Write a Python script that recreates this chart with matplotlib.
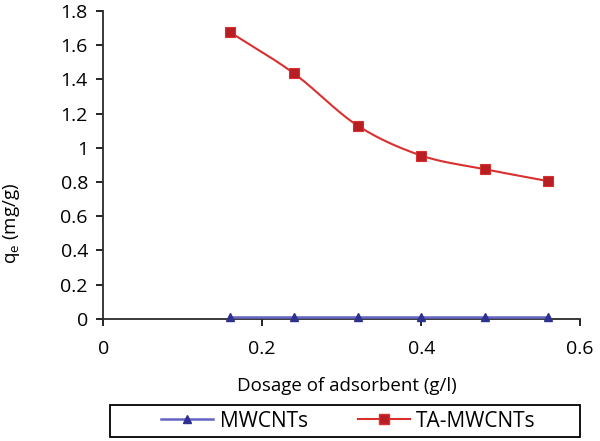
import numpy as np
import matplotlib
matplotlib.use("Agg")
import matplotlib.pyplot as plt
from matplotlib.lines import Line2D
from matplotlib.patches import Rectangle

# data
dosage = [0.16, 0.24, 0.32, 0.40, 0.48, 0.56]
qe_mwcnt = [0.008, 0.008, 0.008, 0.008, 0.008, 0.008]
qe_ta = [1.675, 1.435, 1.13, 0.955, 0.875, 0.805]

x_ticks = [0, 0.2, 0.4, 0.6]
x_labels = ["0", "0.2", "0.4", "0.6"]
y_ticks = [0, 0.2, 0.4, 0.6, 0.8, 1.0, 1.2, 1.4, 1.6, 1.8]
y_labels = ["0", "0.2", "0.4", "0.6", "0.8", "1", "1.2", "1.4", "1.6", "1.8"]

plt.rcParams['font.family'] = ['Open Sans', 'DejaVu Sans']


def smooth(xs, ys, n=30):
    # catmull-rom style curve like excel's smoothed line
    xs = np.asarray(xs, float)
    ys = np.asarray(ys, float)
    px = np.concatenate([[2 * xs[0] - xs[1]], xs, [2 * xs[-1] - xs[-2]]])
    py = np.concatenate([[2 * ys[0] - ys[1]], ys, [2 * ys[-1] - ys[-2]]])
    outx, outy = [], []
    t = np.linspace(0, 1, n)
    for i in range(1, len(px) - 2):
        for arr, out in ((px, outx), (py, outy)):
            p0, p1, p2, p3 = arr[i - 1], arr[i], arr[i + 1], arr[i + 2]
            c1 = p1 + (p2 - p0) / 6
            c2 = p2 - (p3 - p1) / 6
            out.extend((1 - t) ** 3 * p1 + 3 * (1 - t) ** 2 * t * c1
                       + 3 * (1 - t) * t ** 2 * c2 + t ** 3 * p2)
    return outx, outy


red = "#d9302f"
red_fill = "#b71f25"
blue = "#6464c4"
blue_mark = "#2e318f"

fig = plt.figure(figsize=(6, 4.41), dpi=100)
ax = fig.add_axes([0.172, 0.277, 0.795, 0.698])

sx, sy = smooth(dosage, qe_ta)
ax.plot(sx, sy, color=red, lw=1.5, zorder=2)
ax.plot(dosage, qe_ta, ls="none", marker="s", ms=7, mfc=red_fill,
        mec=red, mew=0.8, zorder=3)
ax.plot(dosage, qe_mwcnt, color=blue, lw=1.8, marker="^", ms=6,
        mfc=blue_mark, mec=blue_mark, zorder=3, clip_on=False)

ax.set_xlim(0, 0.6)
ax.set_ylim(0, 1.8)
ax.set_xticks(x_ticks)
ax.set_xticklabels(x_labels)
ax.set_yticks(y_ticks)
ax.set_yticklabels(y_labels)
ax.tick_params(axis="both", direction="out", length=5, width=1.2,
               labelsize=14, colors="black")
ax.tick_params(axis="x", pad=10)
ax.tick_params(axis="y", pad=6)
ax.spines["top"].set_visible(False)
ax.spines["right"].set_visible(False)
for side in ("left", "bottom"):
    ax.spines[side].set_linewidth(1.3)
    ax.spines[side].set_color("#2a2a2a")

ax.set_xlabel("Dosage of adsorbent (g/l)", fontsize=13.5)
ax.set_ylabel("q$_\\mathregular{e}$ (mg/g)", fontsize=13.5)
ax.xaxis.set_label_coords(0.51, -0.19)
ax.yaxis.set_label_coords(-0.17, 0.31)

handles = [
    Line2D([], [], color=blue, lw=1.8, marker="^", ms=6,
           mfc=blue_mark, mec=blue_mark),
    Line2D([], [], color=red, lw=1.5, marker="s", ms=6.5,
           mfc=red_fill, mec=red),
]
leg = fig.legend(handles, ["MWCNTs", "TA-MWCNTs"], loc="center",
                 bbox_to_anchor=(0.581, 0.045), ncol=2, fontsize=15,
                 frameon=False, handlelength=2.5, handletextpad=0.3,
                 columnspacing=2.4, borderpad=0, borderaxespad=0)

# legend box, drawn separately so it can be wider than the entries
fig.patches.append(Rectangle((110 / 600, 1 - 437 / 441), 470 / 600, 32 / 441,
                             transform=fig.transFigure, fill=False,
                             edgecolor="black", lw=1.3))

fig.savefig("out.png", dpi=100)
